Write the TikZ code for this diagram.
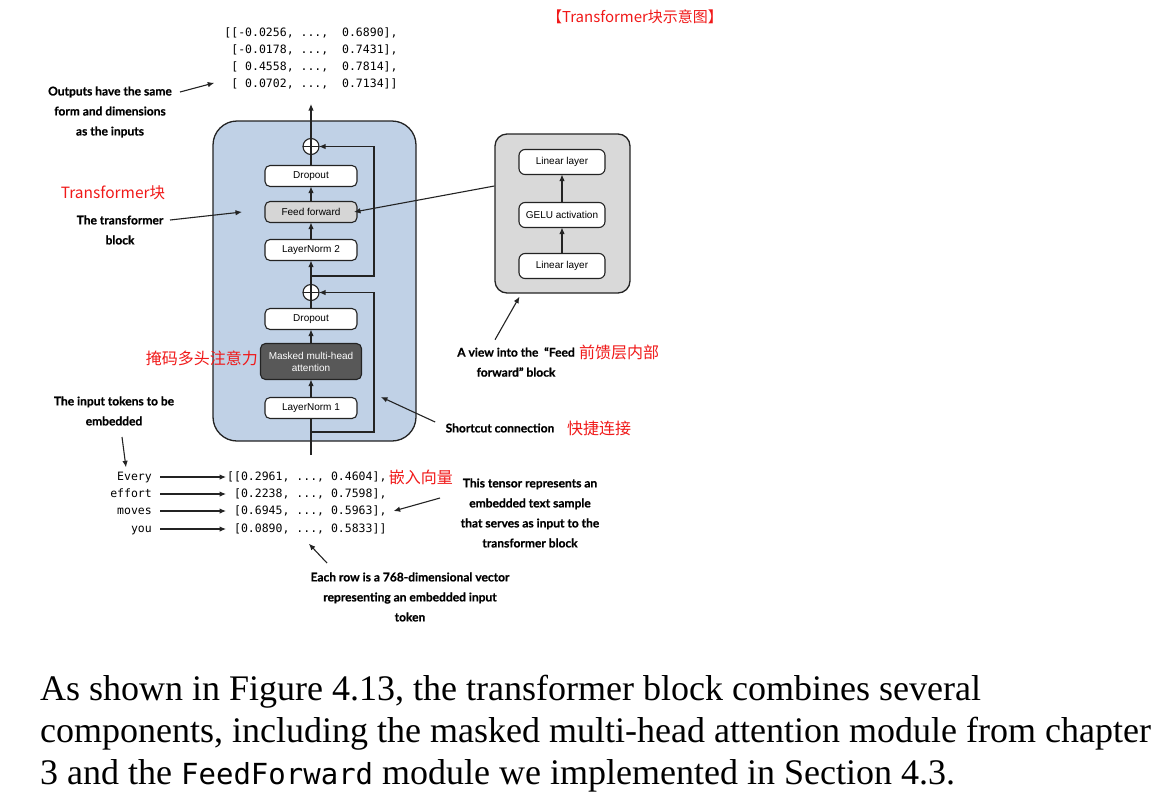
\documentclass[tikz,border=0pt]{standalone}
\usepackage{fontspec}
\setmainfont{Liberation Serif}
\setsansfont{Liberation Sans}
\setmonofont{DejaVu Sans Mono}
\newfontfamily\notefont{Lato}[BoldFeatures={FakeBold=0.6}]
\newfontfamily\cjk{Noto Sans CJK SC}
\usepackage{xcolor}
\usepackage{tikz}
\usetikzlibrary{shapes, arrows.meta, positioning}
\definecolor{blockblue}{RGB}{192,209,230}
\definecolor{viewgray}{RGB}{217,217,217}
\definecolor{ffgray}{RGB}{214,214,214}
\definecolor{attgray}{RGB}{88,88,88}
\definecolor{linecol}{RGB}{35,35,35}
\definecolor{cnred}{RGB}{240,25,25}
\newcommand{\sk}{\hphantom{0}}

\begin{document}
\begin{tikzpicture}[x=1pt, y=-1pt,
	layer/.style={draw=linecol, line width=1.1pt, rounded corners=5pt,
		fill=white, minimum width=92pt, minimum height=21pt, outer sep=0pt,
		font=\sffamily\fontsize{10}{12}\selectfont},
	addop/.style={circle, draw=linecol, line width=1.1pt, fill=white,
		minimum size=16pt, inner sep=0pt, outer sep=0pt,
		path picture={\draw[line width=1.1pt]
			(path picture bounding box.north) -- (path picture bounding box.south)
			(path picture bounding box.west) -- (path picture bounding box.east);}},
	note/.style={align=center, font=\notefont\bfseries\fontsize{12}{20}\selectfont},
	cnote/.style={text=cnred, inner sep=1pt, font=\cjk\fontsize{16}{18}\selectfont},
	tensor/.style={inner sep=1pt, font=\ttfamily\fontsize{11.5}{17}\selectfont},
	token/.style={tensor, text height=8.5pt, text depth=2.5pt},
	wire/.style={line width=1.1pt, draw=linecol},
	arr/.style={wire, -{Latex[length=6.5pt,width=5.5pt]}}]
\useasboundingbox (0,0) rectangle (1170,809);
% Transformer block
\node[draw=linecol,
line width=1.3pt,
rounded corners=24pt,
fill=blockblue,
minimum width=203pt,
minimum height=320pt] (tblock) at (314.5,281) {};
% Layers, from the input upwards
\node[layer] (ln1) at (311,408) {LayerNorm 1};
\node[layer,
fill=attgray,
text=white,
align=center,
minimum width=101pt,
minimum height=36pt,
above=18pt of ln1] (mha) {Masked multi-head\\attention};
\node[layer, above=14pt of mha] (drop2) {Dropout};
\node[addop, above=8pt of drop2] (plus2) {};
\node[layer, above=24pt of plus2] (ln2) {LayerNorm 2};
\node[layer, fill=ffgray, above=17pt of ln2] (ff) {Feed forward};
\node[layer, above=15pt of ff] (drop1) {Dropout};
\node[addop, above=11pt of drop1] (plus1) {};
% Feed forward view
\node[draw=linecol,
line width=1.3pt,
rounded corners=12pt,
fill=viewgray,
minimum width=135pt,
minimum height=159pt] (ffview) at (562.5,213.5) {};
\node[layer, minimum width=86pt, minimum height=25pt, rounded corners=6pt] (lin1) at (562,266) {Linear layer};
\node[layer, minimum width=86pt, minimum height=25pt, rounded corners=6pt] (gelu) at (562,215) {GELU activation};
\node[layer, minimum width=86pt, minimum height=25pt, rounded corners=6pt] (lin2) at (562,162) {Linear layer};
% Main path
\coordinate (inbot) at (311,455);
\coordinate (outtop) at (311,104);
\coordinate (split1) at (311,432);
\coordinate (split2) at (311,276);
\coordinate (rail) at (374,0);
\draw[wire] (inbot) -- (ln1);
\draw[arr] (ln1) -- (mha);
\draw[arr] (mha) -- (drop2);
\draw[wire] (drop2) -- (plus2);
\draw[arr] (plus2) -- (ln2);
\draw[arr] (ln2) -- (ff);
\draw[arr] (ff) -- (drop1);
\draw[wire] (drop1) -- (plus1);
\draw[arr] (plus1) -- (outtop);
% Shortcuts
\draw[arr] (split1) -- (split1 -| rail) |- (plus2);
\draw[arr] (split2) -- (split2 -| rail) |- (plus1);
\draw[arr] (lin1) -- (gelu);
\draw[arr] (gelu) -- (lin2);
\draw[arr] ([yshift=27.5pt]ffview.west) -- ([xshift=-3pt]ff.east);
% Output tensor
\node[tensor, align=left] (outmat) at (311,58) {[[-0.0256, ...,\sk{} 0.6890],\\
\sk[-0.0178, ...,\sk{} 0.7431],\\
\sk[\sk0.4558, ...,\sk{} 0.7814],\\
\sk[\sk0.0702, ...,\sk{} 0.7134]]};
% Input tokens and tensor
\node[token, anchor=east] (tok1) at (153,477) {Every};
\node[token, anchor=east] (tok2) at (153,494) {effort};
\node[token, anchor=east] (tok3) at (153,511) {moves};
\node[token, anchor=east] (tok4) at (153,529) {you};
\node[token, anchor=west] (row1) at (226,477) {[[0.2961, ..., 0.4604],};
\node[token, anchor=west] (row2) at (226,494) {\sk[0.2238, ..., 0.7598],};
\node[token, anchor=west] (row3) at (226,511) {\sk[0.6945, ..., 0.5963],};
\node[token, anchor=west] (row4) at (226,529) {\sk[0.0890, ..., 0.5833]]};
\draw[arr, shorten <=7pt] (tok1) -- (row1);
\draw[arr, shorten <=7pt] (tok2) -- (row2);
\draw[arr, shorten <=7pt] (tok3) -- (row3);
\draw[arr, shorten <=7pt] (tok4) -- (row4);
% Notes
\node[note] (outnote) at (110,112) {Outputs have the same\\form and dimensions\\as the inputs};
\node[note] (blocknote) at (120,230) {The transformer\\block};
\node[note] (tokennote) at (114,411) {The input tokens to be\\embedded};
\node[note] (tensornote) at (530,513) {This tensor represents an\\embedded text sample\\that serves as input to the\\transformer block};
\node[note] (rownote) at (410,597) {Each row is a 768-dimensional vector\\representing an embedded input\\token};
\node[note] (shortnote) at (500,428) {Shortcut connection};
\node[note] (viewnote) at (516,362) {A view into the\ \ “Feed\\forward” block};
\coordinate (blockpt) at (242,212);
\coordinate (shortpt) at (381,397);
\draw[arr] ([shift={(70,-20)}]outnote.center) -- ([shift={(-9,-7)}]outmat.south west);
\draw[arr] ([shift={(50,-10)}]blocknote.center) -- (blockpt);
\draw[arr] ([shift={(8,26)}]tokennote.center) -- ([shift={(10,-3)}]tok1.north west);
\draw[arr] ([shift={(-90,-15)}]tensornote.center) -- ([xshift=6pt]row3.east);
\draw[arr] ([shift={(-83,-34)}]rownote.center) -- ([shift={(2,8)}]row4.south);
\draw[arr] ([shift={(-7,-6)}]shortnote.west) -- (shortpt);
\draw[arr] ([shift={(-21,-4)}]viewnote.north) -- ([shift={(-43,3)}]ffview.south);
% Chinese labels
\node[cnote, font=\cjk\fontsize{15}{17}\selectfont] (cntitle) at (635,17) {【Transformer块示意图】};
\node[cnote, font=\cjk\fontsize{15.5}{18}\selectfont] (cnblock) at (113,193) {Transformer块};
\node[cnote, anchor=east] (cnatt) at (259,358) {掩码多头注意力};
\node[cnote, right=0pt of row1] (cnembed) {嵌入向量};
\node[cnote, right=8pt of shortnote] (cnshort) {快捷连接};
\node[cnote, anchor=west] (cnview) at (578,352) {前馈层内部};
% Caption text
\node[anchor=north west,
inner sep=0pt,
align=left,
font=\fontsize{36}{42}\selectfont] (para) at (40,675) {As shown in Figure 4.13, the transformer block combines several\\
components, including the masked multi-head attention module from chapter\\
3 and the {\ttfamily\fontsize{29}{42}\selectfont FeedForward} module we implemented in Section 4.3.};
\end{tikzpicture}
\end{document}
